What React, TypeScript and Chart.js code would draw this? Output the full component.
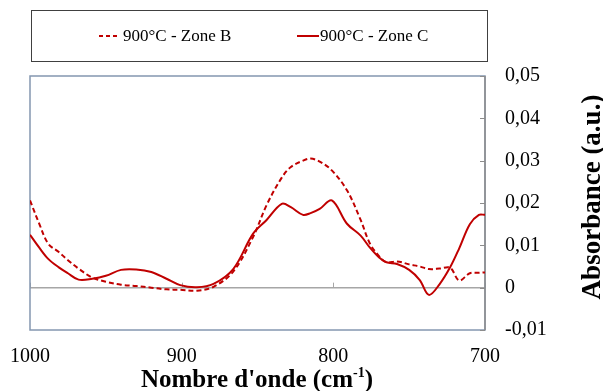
import React, { useEffect, useRef } from 'react';
import { Chart, registerables } from 'chart.js';

Chart.register(...registerables);

const wavenumbers = [1000, 994, 988, 981, 975, 968, 959, 950, 940, 930, 920, 910, 901, 890, 879, 866, 853, 844, 834, 828, 820, 815, 809, 801, 791, 782, 776, 770, 765, 758, 750, 743, 737, 730, 723, 717, 710, 704, 700];
const zoneB = [0.0206, 0.0152, 0.0104, 0.0084, 0.0065, 0.0045, 0.0024, 0.0014, 0.0007, 0.0004, 0.0, -0.0004, -0.0005, -0.0007, 0.0002, 0.0038, 0.0119, 0.0195, 0.026, 0.0285, 0.03, 0.0305, 0.0298, 0.0277, 0.023, 0.016, 0.0105, 0.0075, 0.006, 0.0062, 0.0055, 0.005, 0.0044, 0.0045, 0.0047, 0.0017, 0.0034, 0.0035, 0.0036];
const zoneC = [0.0125, 0.0095, 0.0068, 0.0048, 0.0034, 0.0019, 0.0021, 0.0028, 0.0042, 0.0043, 0.0037, 0.0021, 0.0006, 0.0001, 0.0009, 0.0044, 0.0127, 0.016, 0.0198, 0.019, 0.0172, 0.0176, 0.0186, 0.0206, 0.0151, 0.0123, 0.0095, 0.0072, 0.006, 0.0056, 0.0042, 0.0018, -0.0017, 0.0008, 0.0048, 0.0093, 0.015, 0.0172, 0.0172];
const seriesLabels = ['900°C - Zone B', '900°C - Zone C'];
const xTicks = [1000, 900, 800, 700];
const yTicks = [-0.01, 0, 0.01, 0.02, 0.03, 0.04, 0.05];
const xTitle = "Nombre d'onde (cm";
const xTitleSup = '-1';
const yTitle = 'Absorbance (a.u.)';

const RED = '#C00000';
const SERIF = "'Liberation Serif', 'Times New Roman', serif";

const decorPlugin = {
  id: 'decor',
  beforeDatasetsDraw(chart: any) {
    const { ctx, chartArea: a, scales } = chart;
    const x = scales.x;
    const y = scales.y;
    ctx.save();
    const y0 = y.getPixelForValue(0);
    ctx.strokeStyle = '#A6A6A6';
    ctx.lineWidth = 1.5;
    ctx.beginPath();
    ctx.moveTo(a.left, y0);
    ctx.lineTo(a.right, y0);
    ctx.stroke();
    ctx.lineWidth = 1;
    xTicks.forEach((v) => {
      const px = Math.round(x.getPixelForValue(v)) + 0.5;
      ctx.beginPath();
      ctx.moveTo(px, y0);
      ctx.lineTo(px, y0 - 5);
      ctx.stroke();
    });
    ctx.strokeStyle = '#8497B0';
    ctx.lineWidth = 1.5;
    ctx.strokeRect(a.left, a.top, a.right - a.left, a.bottom - a.top);
    ctx.strokeStyle = '#8C8C8C';
    ctx.beginPath();
    ctx.moveTo(a.right, a.top);
    ctx.lineTo(a.right, a.bottom);
    ctx.stroke();
    ctx.lineWidth = 1;
    yTicks.forEach((v) => {
      const py = Math.round(y.getPixelForValue(v)) + 0.5;
      ctx.beginPath();
      ctx.moveTo(a.right - 5, py);
      ctx.lineTo(a.right, py);
      ctx.stroke();
    });
    ctx.restore();
  },
  afterDraw(chart: any) {
    const { ctx } = chart;
    ctx.save();
    ctx.strokeStyle = '#404040';
    ctx.lineWidth = 1;
    ctx.strokeRect(31.5, 10.5, 456, 51);
    const ly = 36;
    ctx.strokeStyle = RED;
    ctx.lineWidth = 2;
    ctx.setLineDash([4, 3]);
    ctx.beginPath();
    ctx.moveTo(99, ly);
    ctx.lineTo(118, ly);
    ctx.stroke();
    ctx.setLineDash([]);
    ctx.beginPath();
    ctx.moveTo(297, ly);
    ctx.lineTo(319, ly);
    ctx.stroke();
    ctx.fillStyle = '#000';
    ctx.font = `17px ${SERIF}`;
    ctx.textBaseline = 'middle';
    ctx.textAlign = 'left';
    ctx.fillText(seriesLabels[0], 123, ly + 1);
    ctx.fillText(seriesLabels[1], 320, ly + 1);
    const mainFont = `bold 25px ${SERIF}`;
    const supFont = `bold 14px ${SERIF}`;
    ctx.textBaseline = 'alphabetic';
    ctx.font = mainFont;
    const w1 = ctx.measureText(xTitle).width;
    const w3 = ctx.measureText(')').width;
    ctx.font = supFont;
    const w2 = ctx.measureText(xTitleSup).width;
    const total = w1 + w2 + w3;
    let sx = 257 - total / 2;
    const base = 387;
    ctx.font = mainFont;
    ctx.fillText(xTitle, sx, base);
    sx += w1;
    ctx.font = supFont;
    ctx.fillText(xTitleSup, sx, base - 10);
    sx += w2;
    ctx.font = mainFont;
    ctx.fillText(')', sx, base);
    ctx.translate(593, 197);
    ctx.rotate(-Math.PI / 2);
    ctx.textAlign = 'center';
    ctx.textBaseline = 'middle';
    ctx.font = `bold 27px ${SERIF}`;
    ctx.fillText(yTitle, 0, 0);
    ctx.restore();
  },
};

export default function App() {
  const canvasRef = useRef<HTMLCanvasElement | null>(null);

  useEffect(() => {
    if (!canvasRef.current) return;
    const mk = (vals: number[]) => wavenumbers.map((w, i) => ({ x: w, y: vals[i] }));
    const chart = new Chart(canvasRef.current, {
      type: 'line',
      data: {
        datasets: [
          {
            label: seriesLabels[0],
            data: mk(zoneB),
            borderColor: RED,
            borderWidth: 2,
            borderDash: [5, 3],
            pointRadius: 0,
            tension: 0.35,
            fill: false,
          },
          {
            label: seriesLabels[1],
            data: mk(zoneC),
            borderColor: RED,
            borderWidth: 2,
            pointRadius: 0,
            tension: 0.35,
            fill: false,
          },
        ],
      },
      options: {
        responsive: false,
        animation: false,
        devicePixelRatio: 1,
        layout: { padding: { left: 30, top: 76, right: 0, bottom: 0 } },
        plugins: { legend: { display: false }, tooltip: { enabled: false } },
        scales: {
          x: {
            type: 'linear',
            reverse: true,
            min: 700,
            max: 1000,
            grid: { display: false, drawTicks: false },
            border: { display: false },
            afterBuildTicks: (s: any) => {
              s.ticks = xTicks.map((v) => ({ value: v }));
            },
            afterFit: (s: any) => {
              s.height = 61;
              s.paddingLeft = 0;
              s.paddingRight = 0;
            },
            ticks: {
              autoSkip: false,
              maxRotation: 0,
              padding: 15,
              color: '#000',
              font: { family: SERIF, size: 20 },
              callback: (v: any) => String(v),
            },
          },
          y: {
            position: 'right',
            min: -0.01,
            max: 0.05,
            grid: { display: false, drawTicks: false },
            border: { display: false },
            afterBuildTicks: (s: any) => {
              s.ticks = yTicks.map((v) => ({ value: v }));
            },
            afterFit: (s: any) => {
              s.width = 118;
              s.paddingTop = 0;
              s.paddingBottom = 0;
            },
            ticks: {
              padding: 20,
              color: '#000',
              font: { family: SERIF, size: 20 },
              callback: (v: any) => (Math.abs(v) < 1e-9 ? '0' : Number(v).toFixed(2).replace('.', ',')),
            },
          },
        },
      },
      plugins: [decorPlugin],
    } as any);
    return () => chart.destroy();
  }, []);

  return (
    <div style={{ position: 'absolute', left: 0, top: 0, width: 603, height: 391, background: '#fff' }}>
      <canvas ref={canvasRef} width={603} height={391} style={{ display: 'block' }} />
    </div>
  );
}
